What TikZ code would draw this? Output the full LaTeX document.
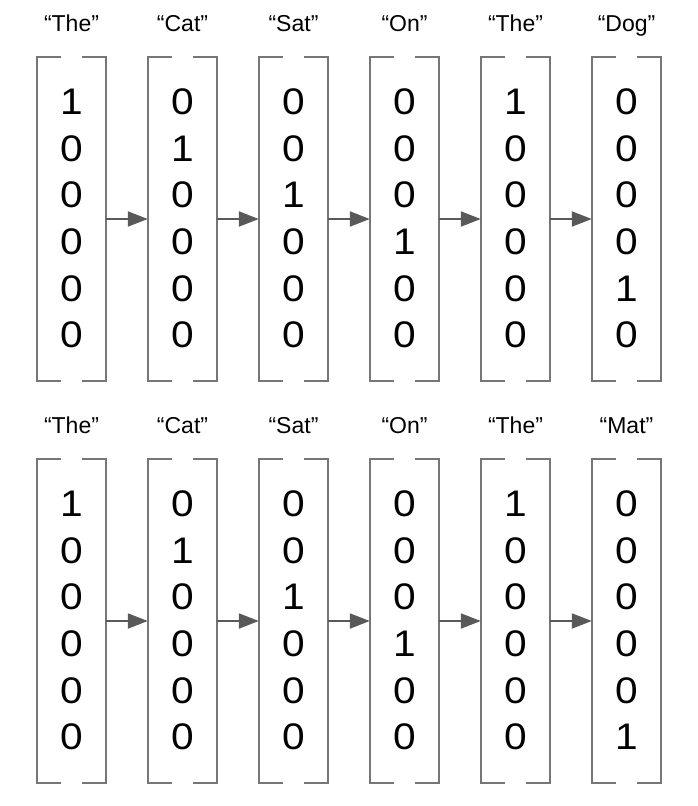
\documentclass[tikz,border=0pt]{standalone}
\usepackage{fontspec}
\setmainfont{Liberation Sans}
\usetikzlibrary{arrows.meta}
\definecolor{brkcol}{RGB}{118,118,118}
\definecolor{arrcol}{RGB}{89,89,89}
\begin{document}
\begin{tikzpicture}[x=1pt,y=-1pt,
  vec/.style={minimum width=69pt,minimum height=324pt,inner sep=0pt,draw=none},
  lbl/.style={font=\fontsize{23}{23}\selectfont,inner sep=0pt,anchor=base},
  dig/.style={font=\fontsize{37}{37}\selectfont,inner sep=0pt},
  brk/.style={draw=brkcol,line width=2pt},
  arrow/.style={draw=arrcol,line width=2pt,-{Triangle[length=20pt,width=15pt]}}]
\useasboundingbox (0,0) rectangle (698,806);
% top row
\foreach \i/\w/\one in {1/The/1,2/Cat/2,3/Sat/3,4/On/4,5/The/1,6/Dog/5}{
  \node[vec] (t\i) at ({71.5+111*(\i-1)},219) {};
  \node[lbl] (tl\i) at ({71.5+111*(\i-1)},31.5) {“\w”};
  \foreach \k in {1,...,6}{
    \node[dig] (t\i d\k) at ({71.5+111*(\i-1)},{102+46.6*(\k-1)}) {\scalebox{1.1}[1]{\ifnum\k=\one\relax 1\else 0\fi}};
  }
  \draw[brk] ([xshift=24pt]t\i.north west) -- (t\i.north west) -- (t\i.south west) -- ([xshift=24pt]t\i.south west);
  \draw[brk] ([xshift=-24pt]t\i.north east) -- (t\i.north east) -- (t\i.south east) -- ([xshift=-24pt]t\i.south east);
}
% bottom row
\foreach \i/\w/\one in {1/The/1,2/Cat/2,3/Sat/3,4/On/4,5/The/1,6/Mat/6}{
  \node[vec] (b\i) at ({71.5+111*(\i-1)},621) {};
  \node[lbl] (bl\i) at ({71.5+111*(\i-1)},433.5) {“\w”};
  \foreach \k in {1,...,6}{
    \node[dig] (b\i d\k) at ({71.5+111*(\i-1)},{504+46.6*(\k-1)}) {\scalebox{1.1}[1]{\ifnum\k=\one\relax 1\else 0\fi}};
  }
  \draw[brk] ([xshift=24pt]b\i.north west) -- (b\i.north west) -- (b\i.south west) -- ([xshift=24pt]b\i.south west);
  \draw[brk] ([xshift=-24pt]b\i.north east) -- (b\i.north east) -- (b\i.south east) -- ([xshift=-24pt]b\i.south east);
}
\foreach \i [evaluate=\i as \j using int(\i+1)] in {1,...,5}{
  \draw[arrow] (t\i.east) -- (t\j.west);
  \draw[arrow] (b\i.east) -- (b\j.west);
}
\end{tikzpicture}
\end{document}
